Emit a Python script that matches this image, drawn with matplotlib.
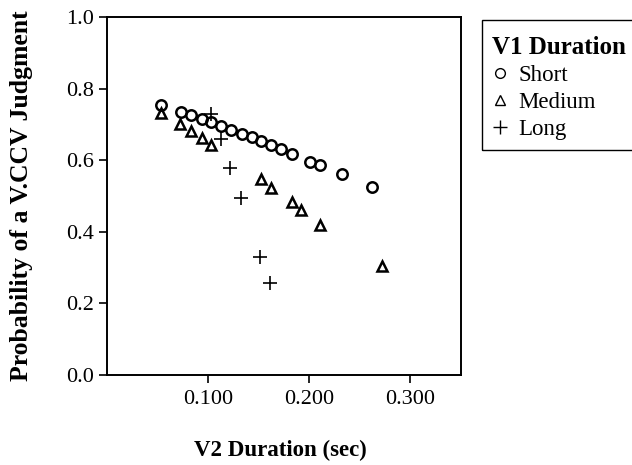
import numpy as np
import matplotlib
matplotlib.use("Agg")
import matplotlib.pyplot as plt
from matplotlib.lines import Line2D
from matplotlib.patches import Rectangle
from matplotlib.ticker import FormatStrFormatter

# === DATA ===
short_x = [0.053, 0.073, 0.083, 0.0935, 0.103, 0.113, 0.1225, 0.133, 0.143, 0.1525,
           0.1625, 0.1725, 0.1825, 0.201, 0.211, 0.2325, 0.262]
short_y = [0.754, 0.734, 0.725, 0.715, 0.706, 0.696, 0.685, 0.674, 0.664, 0.653,
           0.642, 0.632, 0.617, 0.596, 0.586, 0.561, 0.525]

medium_x = [0.053, 0.0725, 0.083, 0.0935, 0.103, 0.1525, 0.1625, 0.1825, 0.192, 0.211, 0.2715]
medium_y = [0.731, 0.701, 0.682, 0.662, 0.643, 0.547, 0.523, 0.484, 0.460, 0.418, 0.304]

long_x = [0.103, 0.1125, 0.1215, 0.1325, 0.1515, 0.161]
long_y = [0.729, 0.658, 0.579, 0.494, 0.331, 0.258]

legend_title = "V1 Duration"
legend_labels = ["Short", "Medium", "Long"]

plt.rcParams["font.family"] = ["Liberation Serif", "DejaVu Serif"]

W, H = 632, 465
fig = plt.figure(figsize=(W / 100, H / 100), dpi=100)
ax = fig.add_axes([0.1693, 0.1935, 0.5601, 0.7699])

ax.plot(short_x, short_y, linestyle="none", marker="o", ms=7.5, mfc="none",
        mec="black", mew=1.8)
ax.plot(medium_x, medium_y, linestyle="none", marker="^", ms=7.5, mfc="none",
        mec="black", mew=1.8)
ax.plot(long_x, long_y, linestyle="none", marker="+", ms=10, mec="black", mew=1.2)

ax.set_xlim(0.0, 0.35)
ax.set_ylim(0.0, 1.0)
ax.set_xticks([0.1, 0.2, 0.3])
ax.set_yticks(np.arange(0, 1.01, 0.2))
ax.xaxis.set_major_formatter(FormatStrFormatter("%.3f"))
ax.yaxis.set_major_formatter(FormatStrFormatter("%.1f"))
ax.tick_params(direction="out", length=6, width=1.2, labelsize=16, colors="black")
ax.tick_params(axis="x", pad=5)
for s in ax.spines.values():
    s.set_linewidth(1.4)

ax.set_xlabel("V2 Duration (sec)", fontsize=16.5, fontweight="bold")
ax.set_ylabel("Probability of a V.CCV Judgment", fontsize=18.5, fontweight="bold")
ax.xaxis.set_label_coords(0.49, -0.182)
ax.yaxis.set_label_coords(-0.209, 0.5)

# Legend with small thin proxy markers; frame drawn separately (runs off the right edge)
handles = [
    Line2D([], [], linestyle="none", marker="o", ms=7, mfc="none", mec="black", mew=1.0),
    Line2D([], [], linestyle="none", marker="^", ms=7, mfc="none", mec="black", mew=1.0),
    Line2D([], [], linestyle="none", marker="+", ms=10, mec="black", mew=1.0),
]
leg = fig.legend(handles, legend_labels, title=legend_title, loc="upper left",
                 bbox_to_anchor=(482 / W, 1 - 26 / H), fontsize=16.5,
                 title_fontproperties={"weight": "bold", "size": 18},
                 frameon=False, handlelength=0.7, handletextpad=0.45,
                 labelspacing=0.25, borderpad=0.45, borderaxespad=0,
                 alignment="left")

fig.patches.append(Rectangle((482 / W, 1 - 150 / H), 170 / W, 130 / H,
                             transform=fig.transFigure, fill=False,
                             edgecolor="black", linewidth=1.0))

plt.savefig("out.png", dpi=100)
plt.close()
